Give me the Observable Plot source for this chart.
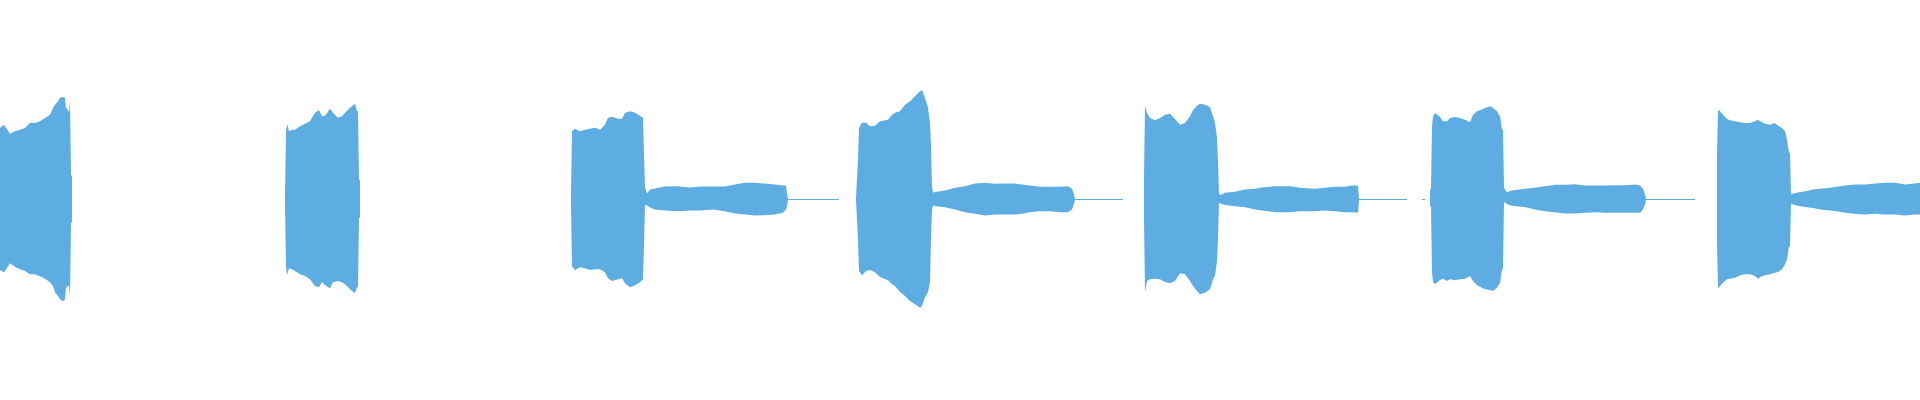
<!DOCTYPE html>
<html>
<head>
<meta charset="utf-8">
<script src="https://cdn.jsdelivr.net/npm/d3@7"></script>
<script src="https://cdn.jsdelivr.net/npm/@observablehq/plot@0.6"></script>
<style>
  html, body { margin: 0; padding: 0; background: #ffffff; }
  #chart svg { display: block; }
</style>
</head>
<body>
<div id="chart"></div>
<script>
// Time (seconds) of each envelope reading; null amplitudes mark gaps (no signal drawn)
const time = [
  // burst 1
  0.00,0.04,0.10,0.15,0.20,0.25,0.30,0.35,0.40,0.45,0.50,0.53,0.55,0.58,0.60,0.63,0.65,0.66,0.68,0.69,0.70,0.71,0.72,0.725,
  // burst 2
  2.85,2.86,2.87,2.89,2.92,2.95,3.00,3.05,3.10,3.15,3.19,3.22,3.25,3.30,3.33,3.38,3.42,3.45,3.50,3.55,3.57,3.58,3.59,3.60,3.605,
  // burst 3 + decay + silence
  5.71,5.72,5.75,5.80,5.85,5.90,5.95,6.00,6.05,6.08,6.12,6.18,6.22,6.25,6.30,6.35,6.40,6.43,6.44,6.45,6.47,6.50,6.55,6.65,6.77,6.90,7.00,7.13,7.25,7.35,7.45,7.55,7.65,7.75,7.83,7.86,7.87,7.88,8.39,8.395,
  // burst 4 + decay + silence
  8.56,8.58,8.59,8.62,8.66,8.70,8.75,8.80,8.88,8.92,8.95,9.00,9.05,9.10,9.15,9.20,9.22,9.25,9.28,9.30,9.31,9.32,9.33,9.35,9.45,9.55,9.65,9.75,9.85,9.95,10.05,10.15,10.22,10.30,10.40,10.50,10.60,10.68,10.72,10.74,10.75,11.23,11.235,
  // burst 5 + decay + silence
  11.44,11.45,11.47,11.50,11.55,11.60,11.65,11.70,11.75,11.80,11.85,11.90,11.93,11.97,12.00,12.05,12.10,12.13,12.15,12.17,12.18,12.19,12.22,12.25,12.35,12.45,12.55,12.62,12.75,12.90,13.00,13.15,13.25,13.35,13.45,13.52,13.58,13.59,14.07,14.075,
  14.22,14.25,14.255,
  // burst 6 + decay + silence
  14.30,14.31,14.32,14.33,14.35,14.40,14.43,14.47,14.50,14.55,14.60,14.65,14.70,14.73,14.77,14.80,14.85,14.90,14.93,14.97,15.00,15.02,15.03,15.04,15.07,15.10,15.15,15.25,15.35,15.45,15.55,15.65,15.75,15.85,15.95,16.05,16.15,16.25,16.35,16.40,16.43,16.45,16.46,16.95,16.955,
  // burst 7 + decay
  17.17,17.18,17.20,17.23,17.27,17.30,17.35,17.40,17.45,17.50,17.55,17.58,17.62,17.65,17.70,17.75,17.78,17.82,17.85,17.87,17.89,17.90,17.91,17.93,17.97,18.00,18.07,18.13,18.20,18.30,18.37,18.45,18.55,18.65,18.75,18.85,18.95,19.05,19.15,19.20
];

// Upper envelope (max sample amplitude) at each time
const peakHigh = [
  0.359,0.375,0.329,0.342,0.350,0.359,0.385,0.384,0.392,0.409,0.425,0.459,0.475,0.492,0.510,0.514,0.510,0.459,0.450,0.435,0.495,0.120,0.120,null,
  0.020,0.340,0.380,0.342,0.350,0.350,0.367,0.380,0.392,0.435,0.447,0.417,0.420,0.455,0.435,0.410,0.417,0.435,0.460,0.480,0.442,0.442,0.097,0.097,null,
  0.015,0.342,0.355,0.342,0.350,0.355,0.360,0.350,0.375,0.410,0.415,0.405,0.405,0.435,0.442,0.435,0.420,0.410,0.230,0.060,0.030,0.050,0.055,0.065,0.067,0.060,0.065,0.065,0.065,0.075,0.084,0.084,0.080,0.075,0.070,0.070,0.030,0.0025,0.0025,null,
  0.006,0.200,0.360,0.385,0.385,0.367,0.370,0.392,0.400,0.425,0.435,0.442,0.475,0.492,0.517,0.542,0.547,0.510,0.460,0.385,0.270,0.067,0.034,0.037,0.045,0.059,0.067,0.080,0.084,0.079,0.080,0.080,0.075,0.070,0.064,0.064,0.064,0.067,0.054,0.025,0.0025,0.0025,null,
  0.105,0.470,0.434,0.409,0.397,0.409,0.425,0.430,0.404,0.375,0.384,0.417,0.447,0.470,0.480,0.475,0.464,0.417,0.384,0.309,0.192,0.025,0.025,0.034,0.039,0.050,0.054,0.060,0.067,0.067,0.059,0.054,0.059,0.064,0.064,0.070,0.070,0.0025,0.0025,null,
  0.0025,0.0025,null,
  0.050,0.050,0.367,0.417,0.434,0.414,0.392,0.392,0.409,0.414,0.409,0.400,0.387,0.425,0.442,0.447,0.459,0.467,0.459,0.442,0.417,0.350,0.350,0.059,0.035,0.042,0.047,0.054,0.059,0.067,0.074,0.074,0.077,0.070,0.070,0.070,0.072,0.072,0.075,0.070,0.054,0.025,0.0025,0.0025,null,
  0.220,0.450,0.442,0.425,0.404,0.397,0.392,0.387,0.384,0.384,0.392,0.400,0.387,0.380,0.375,0.384,0.370,0.359,0.342,0.300,0.234,0.234,0.025,0.030,0.034,0.037,0.042,0.050,0.054,0.059,0.064,0.070,0.075,0.075,0.080,0.084,0.084,0.075,0.080,0.084
];

// Lower envelope (min sample amplitude) at each time
const peakLow = [
  -0.354,-0.365,-0.320,-0.337,-0.350,-0.359,-0.375,-0.375,-0.385,-0.397,-0.415,-0.434,-0.465,-0.484,-0.500,-0.510,-0.500,-0.442,-0.435,-0.430,-0.490,-0.115,-0.115,null,
  -0.015,-0.340,-0.380,-0.345,-0.350,-0.359,-0.375,-0.384,-0.400,-0.434,-0.440,-0.414,-0.430,-0.445,-0.415,-0.409,-0.415,-0.425,-0.450,-0.470,-0.440,-0.440,-0.092,-0.092,null,
  -0.015,-0.334,-0.354,-0.339,-0.345,-0.354,-0.350,-0.350,-0.365,-0.395,-0.409,-0.400,-0.395,-0.420,-0.440,-0.430,-0.415,-0.400,-0.225,-0.025,-0.030,-0.040,-0.050,-0.055,-0.059,-0.055,-0.055,-0.050,-0.059,-0.070,-0.075,-0.080,-0.079,-0.075,-0.067,-0.050,-0.034,-0.0025,-0.0025,null,
  -0.006,-0.200,-0.359,-0.380,-0.359,-0.354,-0.365,-0.389,-0.405,-0.425,-0.434,-0.464,-0.484,-0.509,-0.525,-0.542,-0.534,-0.490,-0.465,-0.415,-0.200,-0.050,-0.030,-0.034,-0.039,-0.050,-0.064,-0.072,-0.080,-0.075,-0.075,-0.075,-0.072,-0.064,-0.059,-0.059,-0.064,-0.064,-0.050,-0.020,-0.0025,-0.0025,null,
  -0.095,-0.464,-0.409,-0.400,-0.397,-0.400,-0.414,-0.420,-0.409,-0.370,-0.375,-0.409,-0.434,-0.459,-0.475,-0.467,-0.450,-0.400,-0.384,-0.309,-0.192,-0.017,-0.022,-0.027,-0.034,-0.039,-0.050,-0.055,-0.064,-0.064,-0.059,-0.059,-0.055,-0.059,-0.064,-0.064,-0.067,-0.0025,-0.0025,null,
  -0.0025,-0.0025,null,
  -0.034,-0.034,-0.364,-0.414,-0.425,-0.404,-0.397,-0.409,-0.400,-0.405,-0.400,-0.397,-0.384,-0.409,-0.430,-0.437,-0.450,-0.454,-0.459,-0.442,-0.417,-0.350,-0.350,-0.012,-0.022,-0.029,-0.034,-0.037,-0.050,-0.059,-0.064,-0.070,-0.070,-0.067,-0.064,-0.067,-0.067,-0.067,-0.067,-0.067,-0.050,-0.025,-0.0025,-0.0025,null,
  -0.214,-0.447,-0.434,-0.417,-0.400,-0.397,-0.392,-0.380,-0.375,-0.375,-0.384,-0.397,-0.384,-0.380,-0.375,-0.367,-0.364,-0.350,-0.325,-0.300,-0.234,-0.234,-0.020,-0.025,-0.030,-0.034,-0.039,-0.043,-0.050,-0.055,-0.059,-0.067,-0.072,-0.075,-0.072,-0.075,-0.075,-0.080,-0.075,-0.075
];

const n = Math.min(time.length, peakHigh.length, peakLow.length);
const rows = d3.range(n).map(i => ({t: time[i], hi: peakHigh[i], lo: peakLow[i]}));

const chart = Plot.plot({
  width: 1920,
  height: 400,
  marginTop: 0,
  marginRight: 0,
  marginBottom: 1,
  marginLeft: 0,
  style: {background: "#ffffff"},
  x: {domain: [0, 19.2], axis: null},
  y: {domain: [-1, 1], axis: null},
  marks: [
    Plot.areaY(rows, {x: "t", y1: "lo", y2: "hi", fill: "#5DADE2", curve: "linear"})
  ]
});
document.getElementById("chart").appendChild(chart);
</script>
</body>
</html>
